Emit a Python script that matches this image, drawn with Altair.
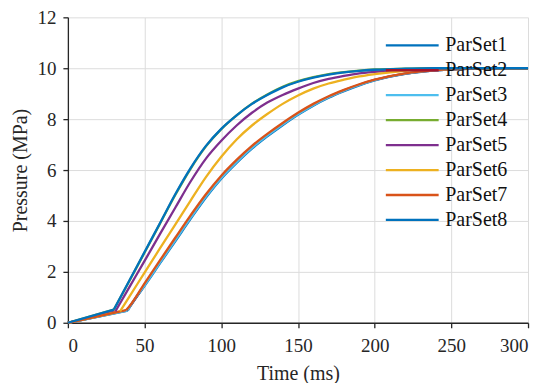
import altair as alt
import pandas as pd

series_names = ["ParSet1", "ParSet2", "ParSet3", "ParSet4", "ParSet5", "ParSet6", "ParSet7", "ParSet8"]
series_colors = ["#0072BD", "#A2142F", "#4DBEEE", "#77AC30", "#7E2F8E", "#EDB120", "#D95319", "#0072BD"]

x_ticks = [0, 50, 100, 150, 200, 250, 300]
y_ticks = [0, 2, 4, 6, 8, 10, 12]

t_late = [40, 50, 60, 70, 80, 90, 100, 110, 120, 130, 140, 150, 160, 170, 180, 190, 200, 220, 240, 260, 300]

t1 = [0, 39] + t_late
p1 = [0, 0.48, 0.58, 1.45, 2.33, 3.2, 4.08, 4.92, 5.66, 6.28, 6.84, 7.32, 7.76, 8.17, 8.53, 8.84, 9.1, 9.33, 9.52, 9.78, 9.92, 9.98, 10]

t2 = [0, 38.5] + t_late
p2 = [0, 0.49, 0.61, 1.5, 2.39, 3.27, 4.15, 4.99, 5.72, 6.34, 6.9, 7.38, 7.81, 8.21, 8.57, 8.87, 9.13, 9.35, 9.54, 9.79, 9.92, 9.98, 10]

t3 = [0, 39] + t_late
p3 = [0, 0.48, 0.59, 1.47, 2.36, 3.24, 4.12, 4.96, 5.69, 6.31, 6.87, 7.35, 7.79, 8.19, 8.55, 8.86, 9.12, 9.34, 9.53, 9.79, 9.92, 9.98, 10]

t4 = [0, 30] + t_late
p4 = [0, 0.52, 1.63, 2.76, 3.89, 5.02, 6.05, 6.93, 7.61, 8.15, 8.61, 8.97, 9.27, 9.49, 9.65, 9.77, 9.85, 9.91, 9.95, 9.98, 10, 10, 10]

t5 = [0, 31] + t_late
p5 = [0, 0.45, 1.39, 2.43, 3.48, 4.52, 5.55, 6.45, 7.15, 7.75, 8.25, 8.65, 8.95, 9.2, 9.42, 9.58, 9.7, 9.8, 9.86, 9.94, 9.98, 10, 10]

t6 = [0, 34] + t_late
p6 = [0, 0.45, 1.02, 1.97, 2.92, 3.86, 4.8, 5.72, 6.52, 7.2, 7.75, 8.2, 8.6, 8.93, 9.2, 9.4, 9.55, 9.68, 9.77, 9.9, 9.96, 9.99, 10]

t7 = [0, 38] + t_late
p7 = [0, 0.5, 0.64, 1.55, 2.45, 3.34, 4.22, 5.05, 5.78, 6.4, 6.95, 7.42, 7.85, 8.25, 8.6, 8.9, 9.15, 9.37, 9.55, 9.8, 9.93, 9.98, 10]

t8 = [0, 30] + t_late
p8 = [0, 0.52, 1.65, 2.78, 3.91, 5.05, 6.08, 6.95, 7.62, 8.15, 8.6, 8.95, 9.25, 9.47, 9.63, 9.75, 9.84, 9.9, 9.94, 9.98, 10, 10, 10]

all_t = [t1, t2, t3, t4, t5, t6, t7, t8]
all_p = [p1, p2, p3, p4, p5, p6, p7, p8]

ramp_rows, rise_rows = [], []
for k, (name, ts, ps) in enumerate(zip(series_names, all_t, all_p)):
    for i, (t, p) in enumerate(zip(ts, ps)):
        rec = {"series": name, "t": t, "p": p, "k": k, "i": i}
        if i <= 1:
            ramp_rows.append(rec)
        if i >= 1:
            rise_rows.append(rec)
ramp_df = pd.DataFrame(ramp_rows)
rise_df = pd.DataFrame(rise_rows)

FONT = "Liberation Serif"
TXT = "#262626"

x_enc = alt.X("t:Q", scale=alt.Scale(domain=[0, 300], nice=False),
              axis=alt.Axis(values=x_ticks, title="Time (ms)", labelPadding=9, titlePadding=8))
y_enc = alt.Y("p:Q", scale=alt.Scale(domain=[0, 12], nice=False),
              axis=alt.Axis(values=y_ticks, title="Pressure (MPa)", labelPadding=7, titlePadding=6))
c_enc = alt.Color("series:N", sort=series_names,
                  scale=alt.Scale(domain=series_names, range=series_colors),
                  legend=alt.Legend(title=None, orient="none", legendX=335, legendY=18,
                                    symbolType="M-5,0H5", symbolSize=112, symbolStrokeWidth=2.3,
                                    labelFont=FONT, labelFontSize=20, labelColor="#111111",
                                    labelOffset=23, rowPadding=5, padding=0))

ramp = alt.Chart(ramp_df).mark_line(strokeWidth=2.3, interpolate="linear").encode(
    x=x_enc, y=y_enc, color=c_enc, detail="k:O", order="i:Q")
rise = alt.Chart(rise_df).mark_line(strokeWidth=2.3, interpolate="monotone").encode(
    x=x_enc, y=y_enc, color=c_enc, detail="k:O", order="i:Q")

chart = alt.layer(ramp, rise).properties(
    width=461, height=306,
    autosize=alt.AutoSizeParams(type="none"),
    padding={"left": 60, "top": 9, "right": 14, "bottom": 60},
).configure_view(stroke=None).configure_axis(
    labelFont=FONT, labelFontSize=19, labelColor=TXT,
    titleFont=FONT, titleFontSize=20, titleColor=TXT, titleFontWeight="normal",
    domainColor=TXT, domainWidth=1.3, tickColor=TXT, tickSize=5, tickWidth=1.3,
    gridColor="#dcdcdc", gridWidth=1,
)

chart.save("out.html", embed_options={"renderer": "svg", "actions": False})
